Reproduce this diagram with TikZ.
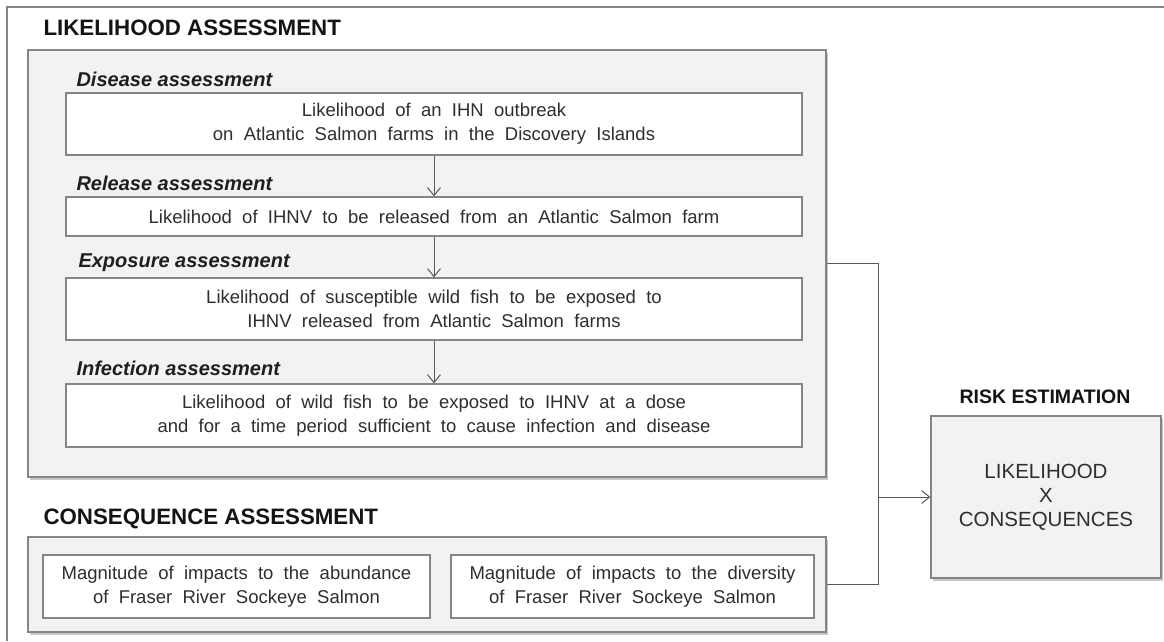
\documentclass[tikz,border=0pt]{standalone}
\usepackage{fontspec}
\setmainfont{Liberation Sans}
\newfontfamily\bodyfont{Liberation Sans}[WordSpace=2.0]
\usetikzlibrary{arrows.meta,shadows}

\definecolor{panelgray}{HTML}{F2F2F2}
\definecolor{edgegray}{HTML}{858585}
\definecolor{textgray}{HTML}{2E2E2E}
\definecolor{linegray}{HTML}{5A5A5A}

\begin{document}
\begin{tikzpicture}[x=1pt, y=-1pt, >={Straight Barb[length=8pt,width=13pt]},
    panel/.style={draw=edgegray, fill=panelgray, line width=1.3pt,
        drop shadow={shadow xshift=2pt, shadow yshift=-2.5pt, opacity=0.3, fill=black!70}},
    box/.style={draw=edgegray, fill=white, line width=1.3pt, align=center,
        text=textgray, font=\bodyfont\fontsize{18.5}{24}\selectfont},
    heading/.style={anchor=west, text=black!92, font=\bfseries\fontsize{22.3}{24}\selectfont},
    phase/.style={anchor=west, text=black!88, font=\bfseries\itshape\fontsize{20}{22}\selectfont},
    flow/.style={draw=linegray, line width=1pt, ->},
    link/.style={draw=linegray, line width=1pt}]
    \useasboundingbox (0,0) rectangle (1164,641);
    \fill[white] (0,0) rectangle (1164,641);

    % Outer frame (only top and left edges are shown)
    \draw[edgegray, line width=2.5pt] (7,641) -- (7,7) -- (1164,7);

    % Likelihood assessment
    \node[heading] (liktitle) at (40,28) {LIKELIHOOD ASSESSMENT};
    \node[panel, minimum width=798, minimum height=427] (lik) at (427,263.5) {};

    \node[phase] (dislab) at (73,79) {Disease assessment};
    \node[box, minimum width=736, minimum height=62] (dis) at (434,124)
        {Likelihood of an IHN outbreak\\on Atlantic Salmon farms in the Discovery Islands};

    \node[phase] (rellab) at (73,183) {Release assessment};
    \node[box, minimum width=736, minimum height=39] (rel) at (434,216.5)
        {Likelihood of IHNV to be released from an Atlantic Salmon farm};

    \node[phase] (explab) at (75,263) {Exposure assessment};
    \node[box, minimum width=736, minimum height=62] (exp) at (434,309)
        {Likelihood of susceptible wild fish to be exposed to\\IHNV released from Atlantic Salmon farms};

    \node[phase] (inflab) at (73,368) {Infection assessment};
    \node[box, minimum width=736, minimum height=63] (inf) at (434,415.5)
        {Likelihood of wild fish to be exposed to IHNV at a dose\\and for a time period sufficient to cause infection and disease};

    \draw[flow] (dis) -- (rel);
    \draw[flow] (rel) -- (exp);
    \draw[flow] (exp) -- (inf);

    % Consequence assessment
    \node[heading] (constitle) at (40,519) {CONSEQUENCE ASSESSMENT};
    \node[panel, minimum width=798, minimum height=95] (cons) at (427,584.5) {};
    \node[box, minimum width=387, minimum height=63] (abund) at (236.5,586.5)
        {Magnitude of impacts to the abundance\\of Fraser River Sockeye Salmon};
    \node[box, minimum width=363, minimum height=63] (divers) at (632.5,586.5)
        {Magnitude of impacts to the diversity\\of Fraser River Sockeye Salmon};

    % Risk estimation
    \node[text=black!92, font=\bfseries\fontsize{19.5}{22}\selectfont] (risktitle) at (1045,397) {RISK ESTIMATION};
    \node[panel, minimum width=230, minimum height=162, align=center, text=textgray,
        font=\fontsize{20.5}{24}\selectfont] (risk) at (1046,497)
        {LIKELIHOOD\\X\\CONSEQUENCES};

    % Joining connectors
    \coordinate (join) at (878,497);
    \draw[link] (lik.east) -| (join) |- (cons.east);
    \draw[flow] (join) -- (risk.west);
\end{tikzpicture}
\end{document}
